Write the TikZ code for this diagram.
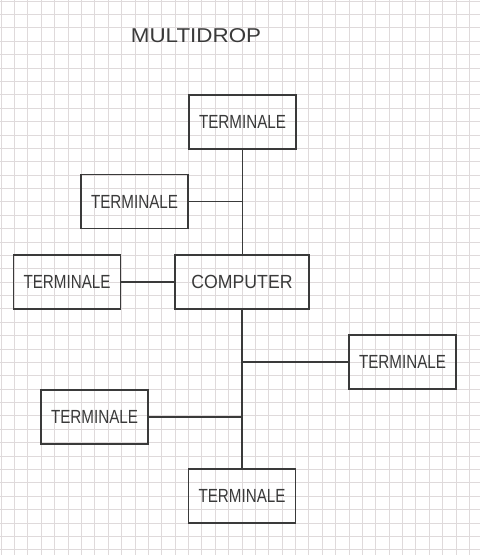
\documentclass[tikz,border=0pt]{standalone}
\usepackage{fontspec}
\usepackage{graphicx}
\setmainfont{Liberation Sans}
\definecolor{ink}{HTML}{3A3A3A}
\definecolor{gridc}{HTML}{DFDADB}
\newcommand{\hw}[2]{\scalebox{#1}[1]{#2}}
\begin{document}
\begin{tikzpicture}[x=1pt,y=-1pt,
  gridline/.style={draw=gridc,line width=0.6pt},
  termbox/.style={draw=ink,line width=1.4pt,minimum width=107pt,minimum height=54pt,inner sep=0pt,text=ink,font=\fontsize{19}{20}\selectfont},
  compbox/.style={termbox,minimum width=134pt},
  wire/.style={draw=ink,line width=1.2pt}]
\fill[white] (0,0) rectangle (480,555);
\useasboundingbox (0,0) rectangle (480,555);
\foreach \i in {0,...,35} \draw[gridline] ({1+13.38*\i},0) -- ({1+13.38*\i},555);
\foreach \i in {0,...,41} \draw[gridline] (0,{1+13.38*\i}) -- (480,{1+13.38*\i});
\node[text=ink,font=\fontsize{20}{21}\selectfont,inner sep=0pt] (title) at (196,36) {\hw{1.12}{MULTIDROP}};
\node[termbox] (t1) at (242.5,122) {\hw{0.8}{TERMINALE}};
\node[termbox] (t2) at (134.5,201.5) {\hw{0.8}{TERMINALE}};
\node[termbox] (t3) at (67,282) {\hw{0.8}{TERMINALE}};
\node[compbox] (comp) at (242,282) {\hw{0.93}{COMPUTER}};
\node[termbox] (t4) at (402.5,362) {\hw{0.8}{TERMINALE}};
\node[termbox] (t5) at (94.5,417) {\hw{0.8}{TERMINALE}};
\node[termbox] (t6) at (242,496) {\hw{0.8}{TERMINALE}};
\draw[wire] (t1.south) -- (t1.south |- comp.north);
\draw[wire] (comp.south) -- (t6.north);
\draw[wire] (t2.east) -- (t2.east -| t1.south);
\draw[wire] (t3.east) -- (comp.west);
\draw[wire] (t4.west) -- (t4.west -| comp.south);
\draw[wire] (t5.east) -- (t5.east -| comp.south);
\end{tikzpicture}
\end{document}
